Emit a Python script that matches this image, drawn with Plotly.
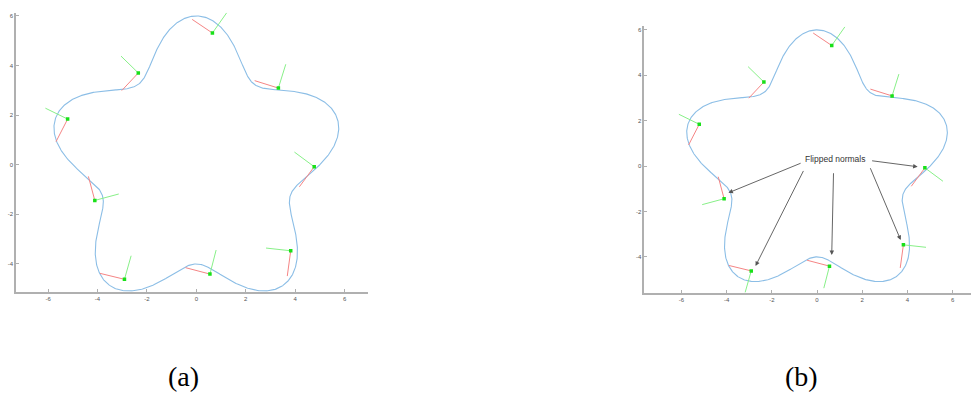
import numpy as np
import plotly.graph_objects as go

# ---- curve definition: r(theta) = base + amp * sin(lobes * theta)
curve_base = 5.0
curve_amp = 1.0
curve_lobes = 5
curve_samples = 1200

# ---- sample points (same in both panels)
pt_x = [0.65, -2.35, 3.32, -5.21, 4.77, -4.11, -2.91, 0.55, 3.82]
pt_y = [5.31, 3.70, 3.09, 1.84, -0.08, -1.44, -4.62, -4.41, -3.47]
# tangent (red) segment end points
tan_x = [-0.17, -3.02, 2.36, -5.68, 4.17, -4.37, -3.90, -0.44, 3.68]
tan_y = [5.86, 2.99, 3.39, 0.93, -0.89, -0.47, -4.38, -4.15, -4.49]
# normal (green) segment end points in panel (a)
nrm_x = [1.23, -3.05, 3.62, -6.11, 3.97, -3.14, -2.64, 0.80, 2.82]
nrm_y = [6.13, 4.38, 4.05, 2.28, 0.51, -1.18, -3.67, -3.44, -3.36]
# normals flipped in panel (b)
flipped_b = [0, 0, 0, 0, 1, 1, 1, 1, 1]

# ---- annotation in panel (b)
label_text = "Flipped normals"
label_x, label_y = 0.80, 0.30
arrow_tail_x = [-0.66, -0.57, 0.73, 2.33, 2.37]
arrow_tail_y = [0.15, -0.15, -0.25, -0.03, 0.24]
arrow_head_x = [-3.92, -2.72, 0.65, 3.70, 4.45]
arrow_head_y = [-1.18, -4.40, -3.92, -3.26, -0.03]

# ---- ticks
tick_vals = [-6, -4, -2, 0, 2, 4, 6]
tick_text = ["-6", "-4", "-2", "0", "2", "4", "6"]

panel_labels = ["(a)", "(b)"]

W, H = 971, 394

CURVE_COLOR = "#8cbee6"
RED = "#f58585"
GREEN = "#88f088"
DOT = "#18e018"
AXIS = "#b0b0b0"

theta = np.linspace(0, 2 * np.pi, curve_samples)
r = curve_base + curve_amp * np.sin(curve_lobes * theta)
cx = r * np.cos(theta)
cy = r * np.sin(theta)


def segs(x0, y0, x1, y1):
    xs, ys = [], []
    for a, b, c, d in zip(x0, y0, x1, y1):
        xs += [a, c, None]
        ys += [b, d, None]
    return xs, ys


fig = go.Figure()

nb_x = [2 * px - nx if f else nx for px, nx, f in zip(pt_x, nrm_x, flipped_b)]
nb_y = [2 * py - ny if f else ny for py, ny, f in zip(pt_y, nrm_y, flipped_b)]

for idx, (nx, ny) in enumerate([(nrm_x, nrm_y), (nb_x, nb_y)]):
    xa = "x" if idx == 0 else "x2"
    ya = "y" if idx == 0 else "y2"
    fig.add_trace(go.Scatter(x=cx, y=cy, mode="lines",
                             line=dict(color=CURVE_COLOR, width=1.1),
                             xaxis=xa, yaxis=ya, hoverinfo="skip"))
    sx, sy = segs(pt_x, pt_y, tan_x, tan_y)
    fig.add_trace(go.Scatter(x=sx, y=sy, mode="lines",
                             line=dict(color=RED, width=1),
                             xaxis=xa, yaxis=ya, hoverinfo="skip"))
    sx, sy = segs(pt_x, pt_y, nx, ny)
    fig.add_trace(go.Scatter(x=sx, y=sy, mode="lines",
                             line=dict(color=GREEN, width=1),
                             xaxis=xa, yaxis=ya, hoverinfo="skip"))
    fig.add_trace(go.Scatter(x=pt_x, y=pt_y, mode="markers",
                             marker=dict(color=DOT, size=3.5, symbol="square",
                                         line=dict(width=0)),
                             xaxis=xa, yaxis=ya, hoverinfo="skip"))

axis_common = dict(
    showgrid=False, zeroline=False, showline=True, linecolor=AXIS, linewidth=1.5,
    ticks="inside", ticklen=3, tickcolor=AXIS, tickwidth=1,
    tickvals=tick_vals, ticktext=tick_text,
    tickfont=dict(family="Liberation Sans, Arial, sans-serif", size=6, color="#555555"),
    fixedrange=True,
)

fig.update_layout(
    width=W, height=H,
    margin=dict(l=0, r=0, t=0, b=0),
    paper_bgcolor="white", plot_bgcolor="white",
    showlegend=False,
    xaxis=dict(domain=[16 / W, 368.3 / W], range=[-7.3, 6.96], anchor="y", **axis_common),
    yaxis=dict(domain=[1 - 291.7 / H, 1 - 12.7 / H], range=[-5.12, 6.13], anchor="x", **axis_common),
    xaxis2=dict(domain=[644.3 / W, 1.0], range=[-7.64, 6.81], anchor="y2", **axis_common),
    yaxis2=dict(domain=[1 - 292.7 / H, 1 - 26 / H], range=[-5.58, 6.17], anchor="x2", **axis_common),
)

annotations = []
for hx, hy, tx, ty in zip(arrow_head_x, arrow_head_y, arrow_tail_x, arrow_tail_y):
    annotations.append(dict(
        x=hx, y=hy, ax=tx, ay=ty, xref="x2", yref="y2", axref="x2", ayref="y2",
        text="", showarrow=True, arrowhead=2, arrowsize=1.0, arrowwidth=0.9,
        arrowcolor="#555555", standoff=0, startstandoff=0,
    ))
annotations.append(dict(
    x=label_x, y=label_y, xref="x2", yref="y2", text=label_text, showarrow=False,
    font=dict(family="Liberation Sans, Arial, sans-serif", size=8.5, color="#333333"),
    xanchor="center", yanchor="middle",
))
for lbl, px in zip(panel_labels, [183 / W, 801.7 / W]):
    annotations.append(dict(
        x=px, y=1 - 376 / H, xref="paper", yref="paper", text=lbl, showarrow=False,
        font=dict(family="Liberation Serif, Times New Roman, serif", size=28, color="#000000"),
        xanchor="center", yanchor="middle",
    ))
fig.update_layout(annotations=annotations)

fig.write_html("out.html")
